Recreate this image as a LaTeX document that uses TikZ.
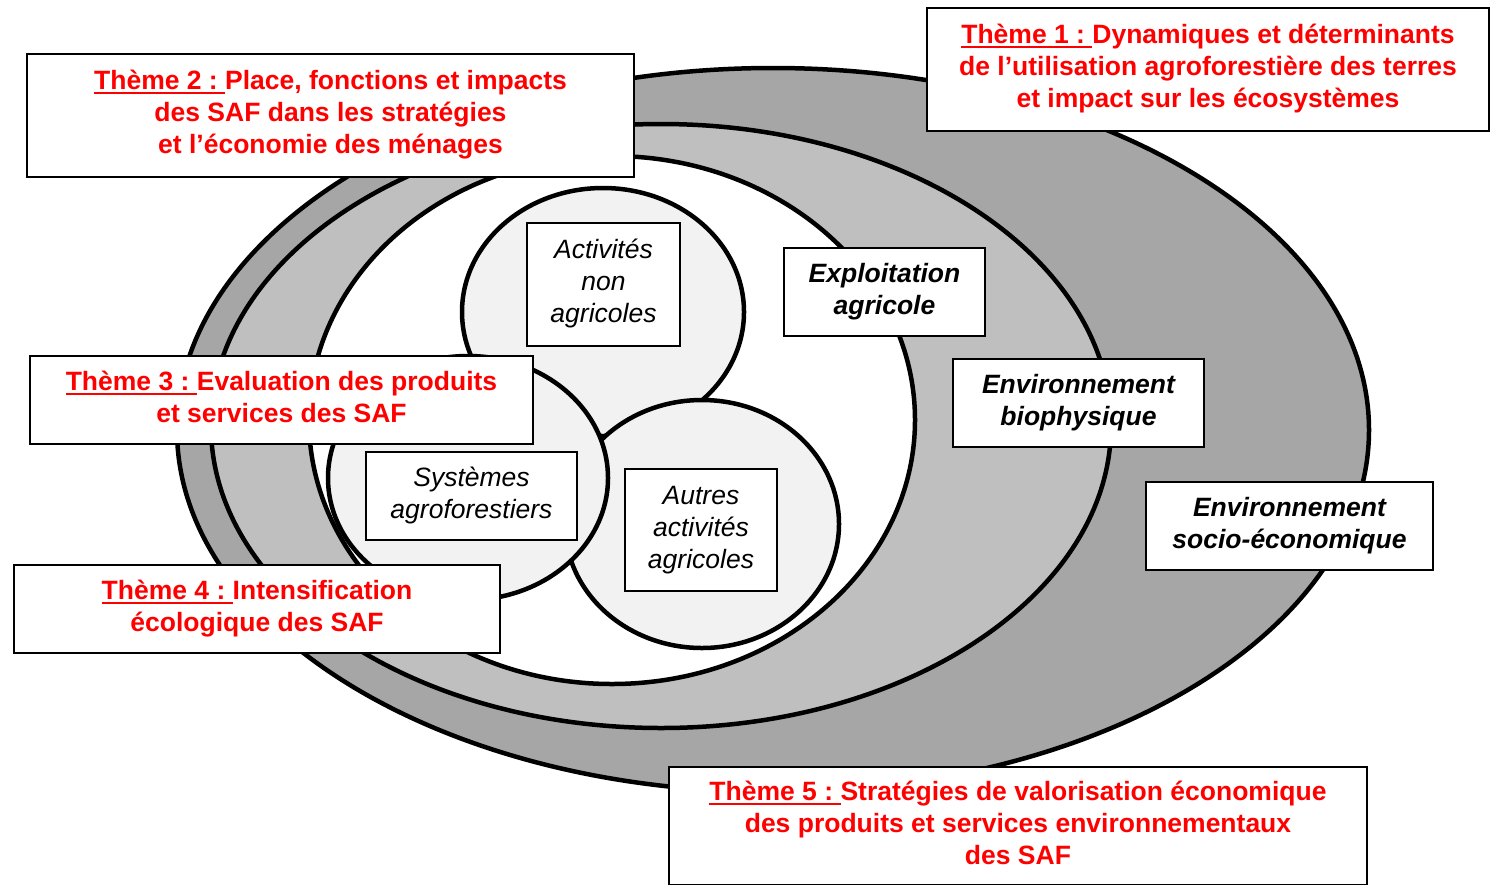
\documentclass[tikz,border=0pt]{standalone}
\usepackage{fontspec}
\setmainfont{Liberation Sans}
\definecolor{tred}{RGB}{255,0,0}
\definecolor{ringA}{RGB}{166,166,166}
\definecolor{ringB}{RGB}{191,191,191}
\definecolor{circfill}{RGB}{242,242,242}
\newcommand{\ulth}[1]{\vtop{\hbox{#1}\kern2.2pt\hrule height 1.9pt}}
\tikzset{
  ring/.style={line width=4.5pt, draw=black},
  boxbase/.style={draw=black, fill=white, line width=1.6pt, inner sep=0pt, align=center},
  theme/.style={boxbase, text=tred, font=\fontsize{26.5}{32}\selectfont\bfseries},
  envlabel/.style={boxbase, font=\fontsize{26.5}{32}\selectfont\bfseries\itshape},
  actlabel/.style={boxbase, font=\fontsize{26.5}{32}\selectfont\itshape},
}
\begin{document}
\begin{tikzpicture}[x=1pt,y=-1pt]
\useasboundingbox (0,0) rectangle (1490,884);
\fill[white] (0,0) rectangle (1490,884);
% rings
\filldraw[ring, fill=ringA] (773,430) ellipse [x radius=596pt, y radius=362pt];
\filldraw[ring, fill=ringB] (661,426) ellipse [x radius=450pt, y radius=302pt];
\filldraw[ring, fill=white] (612,420) ellipse [x radius=303pt, y radius=264pt];
% circles
\filldraw[ring, fill=circfill] (603,312) ellipse [x radius=141pt, y radius=124pt];
\filldraw[ring, fill=circfill] (702,524) ellipse [x radius=137pt, y radius=124pt];
\filldraw[ring, fill=circfill] (468,478) ellipse [x radius=140pt, y radius=122pt];
% inner labels
\node[actlabel, minimum width=153pt, minimum height=123pt] (act) at (603.5,284.5) {\strut Activités\\non\\agricoles\strut};
\node[actlabel, minimum width=211pt, minimum height=88pt] (sys) at (471.5,496) {\strut Systèmes\\agroforestiers\strut};
\node[actlabel, minimum width=152pt, minimum height=122pt] (aut) at (701,530) {\strut Autres\\activités\\agricoles\strut};
% environment labels
\node[envlabel, minimum width=201pt, minimum height=88pt] (expl) at (884.5,292) {\strut Exploitation\\agricole\strut};
\node[envlabel, minimum width=251pt, minimum height=88pt] (bio) at (1078.5,403) {\strut Environnement\\biophysique\strut};
\node[envlabel, minimum width=287pt, minimum height=88pt] (soc) at (1289.5,526) {\strut Environnement\\socio-économique\strut};
% theme boxes
\node[theme, minimum width=562pt, minimum height=123pt] (t1) at (1208,69.5) {\strut\ulth{Thème 1 :\ }Dynamiques et déterminants\\de l’utilisation agroforestière des terres\\et impact sur les écosystèmes\strut};
\node[theme, minimum width=607pt, minimum height=123pt] (t2) at (330.5,115.5) {\strut\ulth{Thème 2 :\ }Place, fonctions et impacts\\des SAF dans les stratégies\\et l’économie des ménages\strut};
\node[theme, minimum width=503pt, minimum height=88pt] (t3) at (281.5,400) {\strut\ulth{Thème 3 :\ }Evaluation des produits\\et services des SAF\strut};
\node[theme, minimum width=486pt, minimum height=88pt] (t4) at (257,609) {\strut\ulth{Thème 4 :\ }Intensification\\écologique des SAF\strut};
\node[theme, minimum width=698pt, minimum height=118pt] (t5) at (1018,826) {\strut\ulth{Thème 5 :\ }Stratégies de valorisation économique\\des produits et services environnementaux\\des SAF\strut};
\end{tikzpicture}
\end{document}
